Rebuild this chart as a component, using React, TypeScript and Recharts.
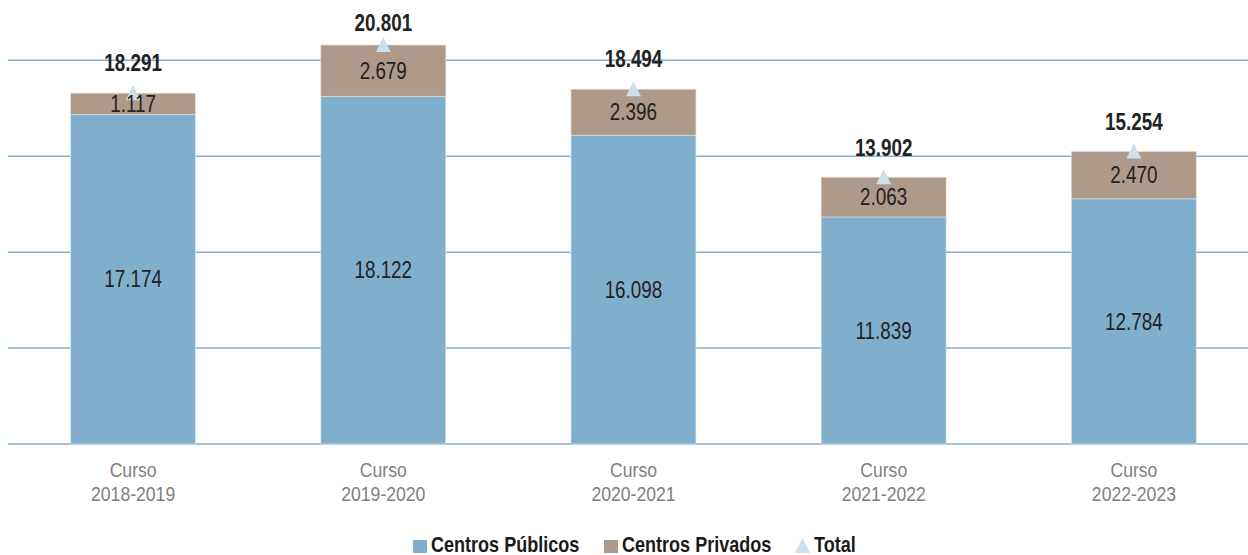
import { ComposedChart, Bar, Scatter, XAxis, YAxis, CartesianGrid, Legend, LabelList } from 'recharts';

const cursos = ['2018-2019', '2019-2020', '2020-2021', '2021-2022', '2022-2023'];
const publicos = [17174, 18122, 16098, 11839, 12784];
const privados = [1117, 2679, 2396, 2063, 2470];
const totales = [18291, 20801, 18494, 13902, 15254];
const yTicks = [0, 5000, 10000, 15000, 20000];

const FONT = "'Liberation Sans', Arial, sans-serif";
const BLUE = '#80afcd';
const BROWN = '#ad9a8a';
const TRI = '#cfdfea';
const GRID = '#80b2d2';

const data = cursos.map((c, i) => ({
    curso: c,
    publicos: publicos[i],
    privados: privados[i],
    total: totales[i],
}));

// miles con punto
const fmt = (v: number) => String(v).replace(/\B(?=(\d{3})+(?!\d))/g, '.');

// texto estrecho (tipo Arial Narrow)
function NText({ x, y, children, sx = 0.82, ...rest }: any) {
    return (
        <text transform={`translate(${x},${y}) scale(${sx},1)`} x={0} y={0} fontFamily={FONT} {...rest}>
            {children}
        </text>
    );
}

function CursoTick({ x, y, payload }: any) {
    return (
        <g>
            <NText x={x} y={y + 25} sx={0.88} textAnchor="middle" fill="#7f7f7f" fontSize={20}>Curso</NText>
            <NText x={x} y={y + 49} sx={0.88} textAnchor="middle" fill="#7f7f7f" fontSize={20}>{payload.value}</NText>
        </g>
    );
}

function SegLabel({ x, y, width, height, value }: any) {
    return (
        <NText x={x + width / 2} y={y + height / 2} textAnchor="middle" dominantBaseline="central" fill="#222" fontSize={23}>
            {fmt(value)}
        </NText>
    );
}

function TotalShape({ cx, cy, payload }: any) {
    const ly = Math.max(cy - 30, 23);
    return (
        <g>
            <polygon points={`${cx},${cy - 8} ${cx - 7.5},${cy + 7} ${cx + 7.5},${cy + 7}`} fill={TRI} />
            <NText x={cx} y={ly} textAnchor="middle" dominantBaseline="central" fontSize={23} fontWeight="bold" fill="#222">
                {fmt(payload.total)}
            </NText>
        </g>
    );
}

function LegendBox() {
    const txt = { fontSize: 22, fontWeight: 'bold', fill: '#1a1a1a' };
    return (
        <svg width={1251} height={26} style={{ display: 'block', overflow: 'visible' }}>
            <rect x={405} y={11} width={14} height={13} fill={BLUE} />
            <NText x={423} y={23} {...txt}>Centros Públicos</NText>
            <rect x={596} y={11} width={14} height={13} fill={BROWN} />
            <NText x={614} y={23} {...txt}>Centros Privados</NText>
            <polygon points="794.5,9 787,24 802,24" fill={TRI} />
            <NText x={806} y={23} {...txt}>Total</NText>
        </svg>
    );
}

export default function App() {
    return (
        <div style={{ position: 'fixed', left: 0, top: 0, width: 1248, height: 555, overflow: 'hidden', background: '#fff' }}>
            <div style={{ position: 'absolute', left: 8, top: 0 }}>
                <ComposedChart width={1251} height={555} data={data} barCategoryGap="25%" margin={{ top: 22, right: 0, bottom: 0, left: 0 }}>
                    <CartesianGrid horizontal vertical={false} stroke={GRID} strokeWidth={1.5} horizontalValues={yTicks} />
                    <XAxis dataKey="curso" axisLine={false} tickLine={false} tick={<CursoTick />} height={85} interval={0} />
                    <YAxis hide domain={[0, 22000]} ticks={yTicks} />
                    <Legend verticalAlign="bottom" content={<LegendBox />} />
                    <Bar dataKey="publicos" stackId="a" fill={BLUE} stroke="#e6eef4" strokeWidth={0.6} isAnimationActive={false}>
                        <LabelList dataKey="publicos" content={<SegLabel />} />
                    </Bar>
                    <Bar dataKey="privados" stackId="a" fill={BROWN} stroke="#e6e0da" strokeWidth={0.6} isAnimationActive={false}>
                        <LabelList dataKey="privados" content={<SegLabel />} />
                    </Bar>
                    <Scatter dataKey="total" shape={<TotalShape />} isAnimationActive={false} />
                </ComposedChart>
            </div>
        </div>
    );
}
